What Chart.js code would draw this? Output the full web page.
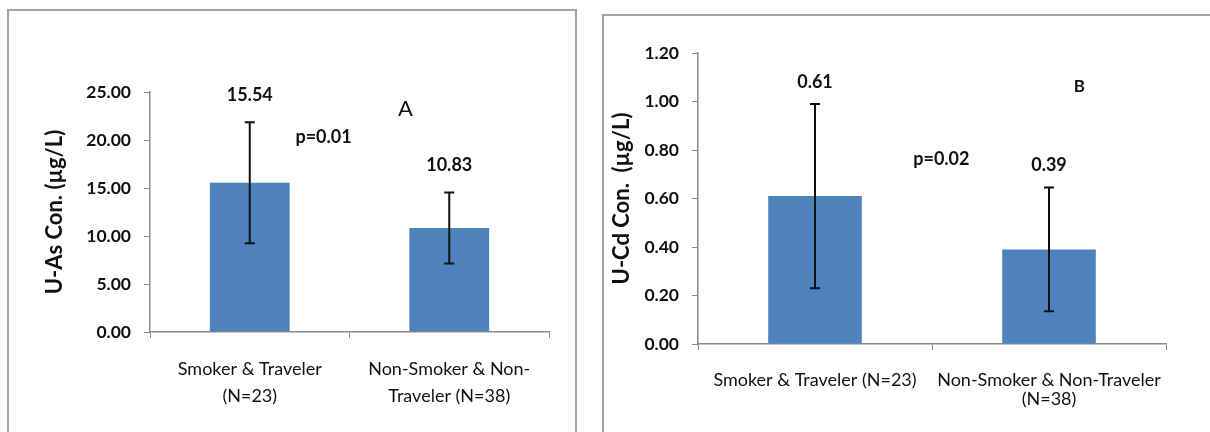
<!DOCTYPE html>
<html>
<head>
<meta charset="utf-8">
<script src="https://cdn.jsdelivr.net/npm/chart.js@4.4.1/dist/chart.umd.min.js"></script>
<style>
  body { margin: 0; background: #fff; width: 1210px; height: 432px; overflow: hidden; position: relative; }
  .panel { position: absolute; border: 2px solid #a3a3a3; box-sizing: border-box; }
  canvas { position: absolute; }
</style>
</head>
<body>
<div class="panel" style="left:7px;top:9px;width:570px;height:440px;"></div>
<div class="panel" style="left:602px;top:14px;width:640px;height:440px;"></div>
<canvas id="chartA" width="569" height="422" style="left:8px;top:10px;"></canvas>
<canvas id="chartB" width="607" height="417" style="left:603px;top:15px;"></canvas>
<script>
// Panel A - Arsen
const categoriesAs = [['Smoker & Traveler', '(N=23)'], ['Non-Smoker & Non-', 'Traveler (N=38)']];
const meanAs = [15.54, 10.83];
const sdAs = [6.3, 3.7];
// Panel B - Cadmium
const categoriesCd = [['Smoker & Traveler (N=23)'], ['Non-Smoker & Non-Traveler', '(N=38)']];
const meanCd = [0.61, 0.39];
const sdCd = [0.38, 0.255];

const fontName = 'Lato, "Open Sans", sans-serif';
const axisGrey = '#8c8c8c';
const barBlue = '#4f81bd';

// Fehlerbalken, Werte und Beschriftungen zeichnen
const annotPlugin = {
    id: 'annot',
    afterDatasetsDraw(chart, args, opts) {
        const ctx = chart.ctx;
        const x = chart.scales.x;
        const y = chart.scales.y;
        ctx.save();
        ctx.strokeStyle = '#111';
        ctx.lineWidth = 2;
        ctx.fillStyle = '#111';
        ctx.textAlign = 'center';
        ctx.textBaseline = 'middle';
        ctx.font = 'bold 18px ' + fontName;
        opts.means.forEach(function(m, i) {
            const px = x.getPixelForValue(i);
            const top = y.getPixelForValue(m + opts.sd[i]);
            const bot = y.getPixelForValue(m - opts.sd[i]);
            ctx.beginPath();
            ctx.moveTo(px, top); ctx.lineTo(px, bot);
            ctx.moveTo(px - 5, top); ctx.lineTo(px + 5, top);
            ctx.moveTo(px - 5, bot); ctx.lineTo(px + 5, bot);
            ctx.stroke();
            ctx.fillText(m.toFixed(2), px, top - opts.labelGap);
        });
        opts.notes.forEach(function(n) {
            ctx.font = n.font + ' ' + fontName;
            ctx.fillText(n.text, x.getPixelForValue(n.x), y.getPixelForValue(n.y));
        });
        ctx.restore();
    }
};

function makeChart(id, labels, means, sd, cfg) {
    return new Chart(document.getElementById(id).getContext('2d'), {
        type: 'bar',
        data: {
            labels: labels,
            datasets: [{
                data: means,
                backgroundColor: barBlue,
                categoryPercentage: 1,
                barPercentage: 0.4
            }]
        },
        options: {
            responsive: false,
            animation: false,
            devicePixelRatio: 1,
            layout: { padding: cfg.padding },
            plugins: {
                legend: { display: false },
                tooltip: { enabled: false },
                annot: { means: means, sd: sd, labelGap: cfg.labelGap, notes: cfg.notes }
            },
            scales: {
                x: {
                    offset: true,
                    grid: { offset: true, drawOnChartArea: false, color: axisGrey, tickLength: 6 },
                    border: { color: axisGrey, width: 1.5 },
                    ticks: {
                        color: '#111',
                        padding: cfg.xPad,
                        maxRotation: 0,
                        autoSkip: false,
                        font: { family: fontName, size: 18, lineHeight: cfg.xLine }
                    },
                    afterFit: function(s) { s.height = cfg.xHeight; }
                },
                y: {
                    min: 0,
                    max: cfg.max,
                    grid: { drawOnChartArea: false, color: axisGrey, tickLength: 6 },
                    border: { color: axisGrey, width: 1.5 },
                    ticks: {
                        stepSize: cfg.step,
                        color: '#111',
                        padding: 13,
                        font: { family: fontName, size: 17.5, weight: 'bold' },
                        callback: function(v) { return v.toFixed(2); }
                    },
                    title: {
                        display: true,
                        text: cfg.title,
                        color: '#111',
                        padding: 0,
                        font: { family: fontName, size: 22, weight: 'bold' }
                    },
                    afterFit: function(s) { s.width = cfg.yWidth; }
                }
            }
        },
        plugins: [annotPlugin]
    });
}

makeChart('chartA', categoriesAs, meanAs, sdAs, {
    padding: { left: 34, top: 82, right: 28, bottom: 0 },
    yWidth: 108, xHeight: 100, xPad: 18, xLine: 1.5,
    max: 25, step: 5, labelGap: 27,
    title: 'U-As Con. (µg/L)',
    notes: [
        { text: 'A', x: 0.78, y: 23.2, font: '22px' },
        { text: 'p=0.01', x: 0.37, y: 20.3, font: 'bold 18px' }
    ]
});

makeChart('chartB', categoriesCd, meanCd, sdCd, {
    padding: { left: 6, top: 38, right: 44, bottom: 0 },
    yWidth: 89, xHeight: 88, xPad: 21, xLine: 1.05,
    max: 1.2, step: 0.2, labelGap: 22,
    title: 'U-Cd Con.  (µg/L)',
    notes: [
        { text: 'B', x: 1.13, y: 1.063, font: 'bold 17px' },
        { text: 'p=0.02', x: 0.54, y: 0.762, font: 'bold 18px' }
    ]
});
</script>
</body>
</html>
